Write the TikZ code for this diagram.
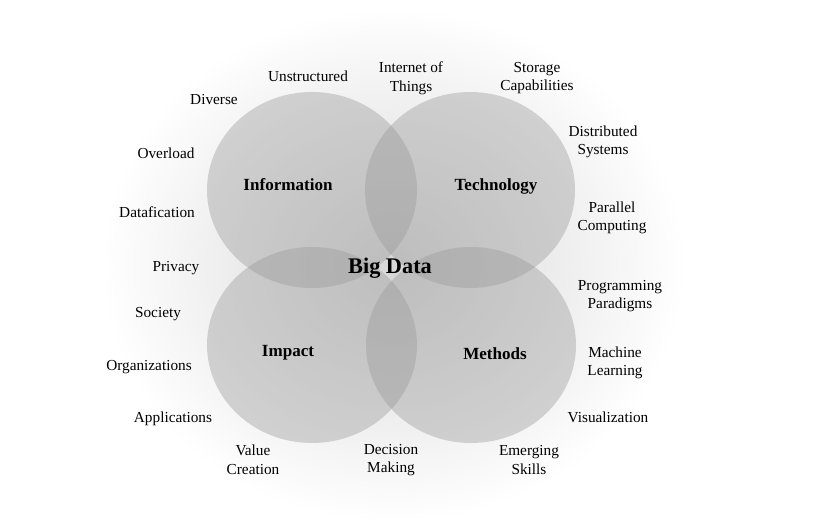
\documentclass[tikz,border=0pt]{standalone}
\usepackage{fontspec}
\setmainfont{Liberation Serif}
\colorlet{blobgray}{black!40}

\begin{document}
\begin{tikzpicture}[x=0.2mm,y=-0.2mm,
    lbl/.style={align=center,inner sep=0pt,font=\fontsize{8.7}{10.6}\selectfont},
    topic/.style={inner sep=0pt,font=\fontsize{9.7}{11}\selectfont\bfseries},
    blob/.style={fill=blobgray,fill opacity=0.4}]
            \useasboundingbox (0,0) rectangle (824,525);
            \fill [white] (0,0) rectangle (824,525);
            \shade [inner color=black!16,outer color=white] (393,265) ellipse [x radius=292,y radius=258];

            % four circles
            \fill [blob] (312,190) ellipse [x radius=105,y radius=98];
            \fill [blob] (470,190) ellipse [x radius=105,y radius=98];
            \fill [blob] (312,345) ellipse [x radius=105,y radius=98];
            \fill [blob] (471,345) ellipse [x radius=105,y radius=98];

            \node [topic] (info) at (288,185) {Information};
            \node [topic] (tech) at (496,186) {Technology};
            \node [topic] (imp) at (288,353) {Impact};
            \node [topic] (meth) at (495,354) {Methods};
            \node [topic,font=\fontsize{12.7}{14}\selectfont\bfseries] (bd) at (390,268) {Big Data};

            % words round the outside
            \node [lbl] (unstr) at (308,76) {Unstructured};
            \node [lbl] (iot) at (411,78) {Internet of\\Things};
            \node [lbl] (stor) at (537,78) {Storage\\Capabilities};
            \node [lbl] (div) at (214,100) {Diverse};
            \node [lbl] (dist) at (603,142) {Distributed\\Systems};
            \node [lbl] (over) at (166,153) {Overload};
            \node [lbl] (par) at (612,218) {Parallel\\Computing};
            \node [lbl] (dfc) at (157,212) {Datafication};
            \node [lbl] (priv) at (176,268) {Privacy};
            \node [lbl] (prog) at (620,296) {Programming\\Paradigms};
            \node [lbl] (soc) at (158,314) {Society};
            \node [lbl] (ml) at (615,363) {Machine\\Learning};
            \node [lbl] (org) at (149,367) {Organizations};
            \node [lbl] (vis) at (608,417) {Visualization};
            \node [lbl] (app) at (173,419) {Applications};
            \node [lbl] (val) at (253,460) {Value\\Creation};
            \node [lbl] (dec) at (391,460) {Decision\\Making};
            \node [lbl] (emer) at (529,460) {Emerging\\Skills};
        \end{tikzpicture}
\end{document}
